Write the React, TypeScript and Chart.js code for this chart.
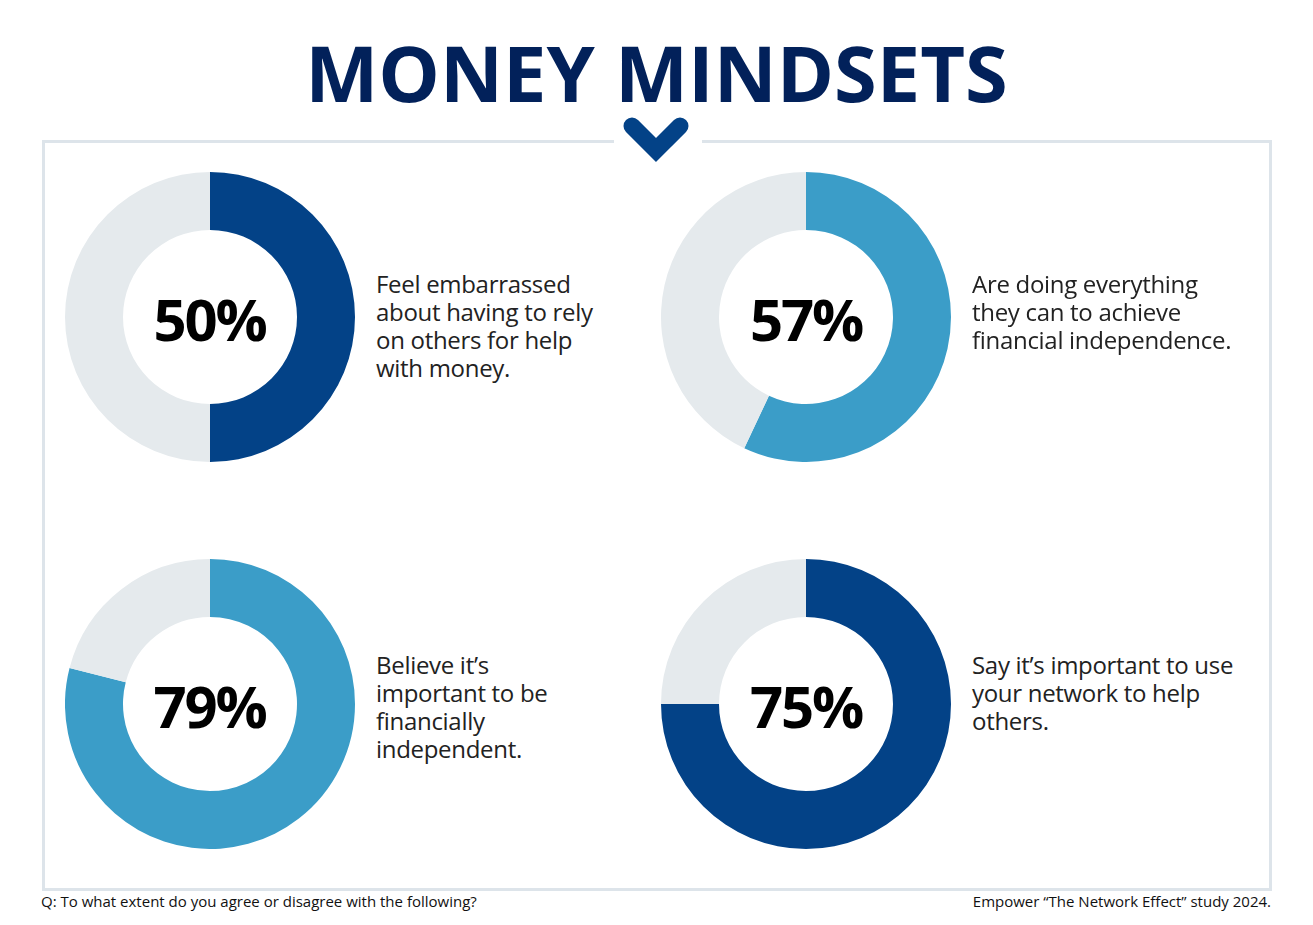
import React, { useEffect, useRef } from "react";
import { Chart, registerables } from "chart.js";

Chart.register(...registerables);

const title = "MONEY MINDSETS";
const percents = [50, 57, 79, 75];
const descriptions = [
  ["Feel embarrassed", "about having to rely", "on others for help", "with money."],
  ["Are doing everything", "they can to achieve", "financial independence."],
  ["Believe it\u2019s", "important to be", "financially", "independent."],
  ["Say it\u2019s important to use", "your network to help", "others."],
];
const seriesColors = ["#034287", "#3b9dc8", "#3b9dc8", "#034287"];
const restColor = "#e5eaed";
const footLeft = "Q: To what extent do you agree or disagree with the following?";
const footRight = "Empower \u201cThe Network Effect\u201d study 2024.";

const FONT = "'Open Sans', 'Noto Sans', sans-serif";

const positions = [
  { cx: 209.5, cy: 317, tx: 376, ty: 270 },
  { cx: 806, cy: 317, tx: 972, ty: 270 },
  { cx: 209.5, cy: 704, tx: 376, ty: 651 },
  { cx: 806, cy: 704, tx: 972, ty: 651 },
];
const R = 145;

function Donut({ value, color }: { value: number; color: string }) {
  const ref = useRef<HTMLCanvasElement>(null);
  useEffect(() => {
    if (!ref.current) return;
    const chart = new Chart(ref.current, {
      type: "doughnut",
      data: {
        labels: ["Yes", "Other"],
        datasets: [
          {
            data: [value, 100 - value],
            backgroundColor: [color, restColor],
            borderWidth: 0,
            hoverOffset: 0,
          },
        ],
      },
      options: {
        responsive: false,
        animation: false,
        cutout: "60%",
        layout: { padding: 0 },
        plugins: { legend: { display: false }, tooltip: { enabled: false } },
      },
    });
    return () => chart.destroy();
  }, [value, color]);
  return <canvas ref={ref} width={R * 2} height={R * 2} style={{ width: R * 2, height: R * 2, display: "block" }} />;
}

export default function App() {
  return (
    <div style={{ position: "absolute", left: 0, top: 0, width: 1313, height: 925, background: "#fff", fontFamily: FONT, overflow: "hidden" }}>
      <div style={{ position: "absolute", left: 0, width: 1313, top: 22, textAlign: "center", fontSize: 77.5, fontWeight: 700, color: "#02215a", lineHeight: "100px", letterSpacing: 0 }}>
        {title}
      </div>
      <div style={{ position: "absolute", left: 42, top: 140, width: 1224, height: 745, border: "3px solid #dde4ea" }} />
      <div style={{ position: "absolute", left: 614, top: 136, width: 88, height: 10, background: "#fff" }} />
      <svg style={{ position: "absolute", left: 0, top: 0 }} width={1313} height={925}>
        <polyline points="632,126 656,150 680,126" fill="none" stroke="#034287" strokeWidth={17} strokeLinejoin="miter" strokeLinecap="round" />
      </svg>
      {percents.map((p, i) => {
        const pos = positions[i];
        return (
          <React.Fragment key={i}>
            <div style={{ position: "absolute", left: pos.cx - R, top: pos.cy - R }}>
              <Donut value={p} color={seriesColors[i]} />
            </div>
            <div style={{ position: "absolute", left: pos.cx - 100, width: 200, top: pos.cy - 38, height: 80, lineHeight: "80px", textAlign: "center", fontSize: 58, fontWeight: 700, color: "#000", letterSpacing: -2.2 }}>
              {p}%
            </div>
            <div style={{ position: "absolute", left: pos.tx, top: pos.ty, fontSize: 24, lineHeight: "28px", color: "#222", letterSpacing: -0.3, whiteSpace: "nowrap" }}>
              {descriptions[i].map((l, j) => (
                <div key={j}>{l}</div>
              ))}
            </div>
          </React.Fragment>
        );
      })}
      <div style={{ position: "absolute", left: 41, top: 890, fontSize: 15, color: "#111", lineHeight: "22px", whiteSpace: "nowrap" }}>{footLeft}</div>
      <div style={{ position: "absolute", right: 1313 - 1271, top: 890, fontSize: 15, color: "#111", lineHeight: "22px", whiteSpace: "nowrap" }}>{footRight}</div>
    </div>
  );
}
